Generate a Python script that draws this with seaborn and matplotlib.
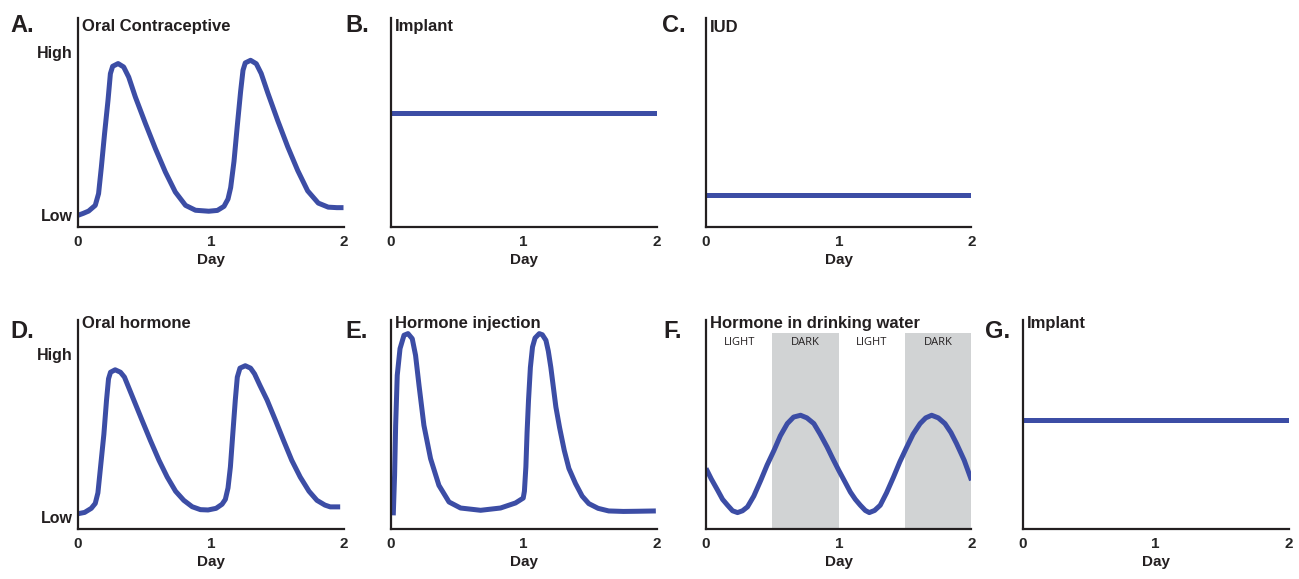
import seaborn as sns
import matplotlib.pyplot as plt
import pandas as pd

sns.set_style("white")
plt.rcParams['font.family'] = ['Liberation Sans', 'DejaVu Sans']

# hormone levels (0 = Low, 1 = High), x in days
oral_day = [0.0, 0.04, 0.08, 0.13, 0.155, 0.176, 0.20, 0.226, 0.244, 0.261, 0.302, 0.344, 0.382,
            0.432, 0.508, 0.583, 0.658, 0.733, 0.81, 0.885, 0.985,
            1.05, 1.10, 1.13, 1.15, 1.175, 1.20, 1.225, 1.243, 1.26, 1.30, 1.343, 1.38,
            1.43, 1.505, 1.58, 1.655, 1.73, 1.81, 1.885, 1.95, 2.0]
oral_contraceptive = [0.0, 0.012, 0.026, 0.061, 0.133, 0.296, 0.50, 0.705, 0.869, 0.914, 0.931, 0.91, 0.848,
                      0.726, 0.563, 0.409, 0.266, 0.143, 0.061, 0.031, 0.025,
                      0.03, 0.055, 0.10, 0.17, 0.33, 0.55, 0.76, 0.89, 0.935, 0.951, 0.93, 0.87,
                      0.75, 0.58, 0.42, 0.275, 0.15, 0.075, 0.05, 0.047, 0.047]

oral_h_day = [0.0, 0.05, 0.10, 0.13, 0.15, 0.17, 0.195, 0.215, 0.23, 0.245, 0.28, 0.32, 0.35, 0.39,
              0.42, 0.48, 0.546, 0.61, 0.672, 0.735, 0.797, 0.86, 0.922, 0.98,
              1.04, 1.085, 1.11, 1.13, 1.148, 1.165, 1.185, 1.20, 1.22, 1.26, 1.30, 1.33, 1.37,
              1.424, 1.49, 1.549, 1.61, 1.674, 1.74, 1.80, 1.86, 1.90, 1.975]
oral_hormone = [0.022, 0.03, 0.055, 0.085, 0.15, 0.31, 0.51, 0.72, 0.85, 0.89, 0.905, 0.89, 0.86, 0.78,
                0.72, 0.60, 0.47, 0.35, 0.247, 0.16, 0.104, 0.065, 0.047, 0.045,
                0.055, 0.08, 0.11, 0.18, 0.309, 0.50, 0.72, 0.86, 0.915, 0.93, 0.915, 0.88, 0.81,
                0.72, 0.59, 0.47, 0.35, 0.247, 0.16, 0.104, 0.075, 0.064, 0.064]

inj_day = [0.017, 0.027, 0.035, 0.047, 0.068, 0.098, 0.128, 0.16, 0.185, 0.211, 0.248, 0.298,
           0.361, 0.437, 0.524, 0.675, 0.825, 0.938, 0.996,
           1.005, 1.016, 1.025, 1.036, 1.05, 1.066, 1.085, 1.117, 1.14, 1.167, 1.185, 1.204,
           1.242, 1.27, 1.305, 1.34, 1.39, 1.44, 1.49, 1.56, 1.64, 1.75, 1.85, 1.995]
injection = [0.012, 0.258, 0.564, 0.871, 1.035, 1.117, 1.127, 1.096, 0.994, 0.81, 0.564, 0.36,
             0.196, 0.094, 0.057, 0.043, 0.057, 0.088, 0.118,
             0.16, 0.309, 0.52, 0.72, 0.92, 1.045, 1.10, 1.127, 1.12, 1.086, 1.02, 0.92,
             0.677, 0.55, 0.411, 0.30, 0.207, 0.13, 0.084, 0.055, 0.039, 0.036, 0.037, 0.039]

water_day = [0.0, 0.04, 0.0875, 0.125, 0.1625, 0.2, 0.2375, 0.275, 0.3125, 0.36, 0.4125, 0.46,
             0.5125, 0.56, 0.6125, 0.66, 0.7125, 0.76, 0.8125, 0.86, 0.9125, 0.955, 1.0,
             1.045, 1.0875, 1.125, 1.1625, 1.20, 1.23, 1.27, 1.3125, 1.36, 1.4125, 1.46,
             1.5125, 1.56, 1.6125, 1.655, 1.70, 1.75, 1.80, 1.845, 1.8875, 1.945, 2.0]
drinking_water = [0.30, 0.235, 0.166, 0.11, 0.074, 0.04, 0.029, 0.04, 0.064, 0.13, 0.227, 0.32,
                  0.411, 0.50, 0.575, 0.615, 0.626, 0.61, 0.575, 0.51, 0.431, 0.36, 0.288,
                  0.22, 0.155, 0.11, 0.074, 0.042, 0.029, 0.042, 0.074, 0.15, 0.247, 0.34,
                  0.431, 0.51, 0.575, 0.61, 0.626, 0.61, 0.575, 0.52, 0.452, 0.35, 0.227]

flat_day = [0, 2]
implant_top = [0.626, 0.626]
iud = [0.123, 0.123]
implant_bottom = [0.60, 0.60]

dark_start = [0.5, 1.5]
dark_end = [1.0, 2.0]
phase_labels = ["LIGHT", "DARK", "LIGHT", "DARK"]
phase_centers = [0.25, 0.75, 1.25, 1.75]

blue = "#3C4DA5"
ink = "#231F20"
W, H = 1299, 579
ylo, yhi = -0.0736, 1.2105

fig = plt.figure(figsize=(W / 100, H / 100), dpi=100)


def make_ax(left_px, bottom_px, letter, letter_px, title, title_off):
    ax = fig.add_axes([left_px / W, (H - bottom_px) / H, 265.5 / W, 209.3 / H])
    ax.set_xlim(0, 2)
    ax.set_ylim(ylo, yhi)
    for s in ["top", "right"]:
        ax.spines[s].set_visible(False)
    for s in ["left", "bottom"]:
        ax.spines[s].set_color(ink)
        ax.spines[s].set_linewidth(1.6)
    ax.set_xticks([0, 1, 2])
    ax.set_xticklabels(["0", "1", "2"], fontweight="bold", fontsize=11)
    ax.tick_params(axis="x", direction="inout", length=9, width=1.6, color=ink, pad=1)
    ax.set_yticks([])
    ax.text(4 / 265.5, 1 - title_off / 209.3, title, transform=ax.transAxes,
            fontweight="bold", fontsize=12, va="center", ha="left", color=ink)
    fig.text(letter_px[0] / W, 1 - letter_px[1] / H, letter, fontweight="bold",
             fontsize=17, va="center", ha="left", color=ink)
    return ax


def curve(ax, x, y):
    d = pd.DataFrame({"day": x, "level": y})
    sns.lineplot(data=d, x="day", y="level", ax=ax, color=blue, linewidth=3.6, sort=False,
                 solid_joinstyle="round", solid_capstyle="butt")
    ax.set_xlabel("Day", fontweight="bold", fontsize=11, labelpad=3, color=ink)
    ax.set_ylabel("")


top, bot = 227.3, 529.3
axA = make_ax(78, top, "A.", (10, 25), "Oral Contraceptive", 9)
axB = make_ax(391, top, "B.", (345, 25), "Implant", 9)
axC = make_ax(706, top, "C.", (662, 25), "IUD", 9)
axD = make_ax(78, bot, "D.", (10, 332), "Oral hormone", 4)
axE = make_ax(391, bot, "E.", (345, 332), "Hormone injection", 4)
axF = make_ax(706, bot, "F.", (663, 332), "Hormone in drinking water", 4)
axG = make_ax(1023, bot, "G.", (985, 332), "Implant", 4)

for a, x, y in [(axA, oral_day, oral_contraceptive), (axB, flat_day, implant_top),
                (axC, flat_day, iud), (axD, oral_h_day, oral_hormone),
                (axE, inj_day, injection), (axF, water_day, drinking_water),
                (axG, flat_day, implant_bottom)]:
    curve(a, x, y)

for a in [axA, axD]:
    a.set_yticks([0, 1])
    a.set_yticklabels(["Low", "High"], fontweight="bold", fontsize=11.5, color=ink)
    a.tick_params(axis="y", length=0, pad=4)

for s, e in zip(dark_start, dark_end):
    axF.fill_between([s, e], ylo, 1.13, color="#D1D3D4", linewidth=0, zorder=0)
for c, lab in zip(phase_centers, phase_labels):
    axF.text(c, 1.07, lab, ha="center", va="center", fontsize=8, color=ink,
             family=["Open Sans", "DejaVu Sans"])

fig.savefig("out.png", dpi=100)
